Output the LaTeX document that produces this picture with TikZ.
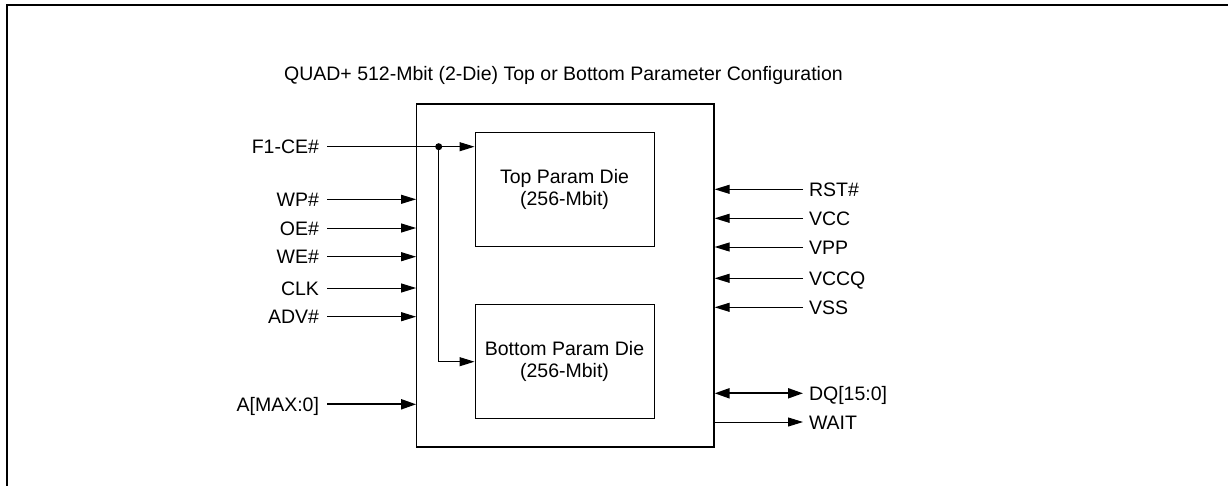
\documentclass[tikz,border=0pt]{standalone}
\usepackage{fontspec}
\setmainfont{Liberation Sans}
\usetikzlibrary{arrows.meta}
\begin{document}
\begin{tikzpicture}[x=1pt,y=-1pt,
  txt/.style={font=\fontsize{19.5}{22}\selectfont},
  lbl/.style={txt, inner sep=0pt, text height=14pt, text depth=0pt},
  lblL/.style={lbl, outer xsep=8pt, anchor=east},
  lblR/.style={lbl, outer xsep=6pt, anchor=west},
  sig/.style={line width=1pt, -{Triangle[length=15pt,width=9pt]}},
  busarrow/.style={line width=2pt, {Triangle[length=15pt,width=10pt]}-{Triangle[length=15pt,width=10pt]}},
  busin/.style={line width=2pt, -{Triangle[length=15pt,width=10pt]}},
  die/.style={draw, line width=1pt, minimum width=179pt, minimum height=114pt, align=center, txt, inner sep=0pt}]
\useasboundingbox (0,0) rectangle (1228,485);
\draw[line width=2.5pt] (7,486) -- (7,5) -- (1229,5);

\node[lbl] (title) at (563.5,73.7) {QUAD+ 512-Mbit (2-Die) Top or Bottom Parameter Configuration};

\node[draw, line width=1.2pt, minimum width=297.3pt, minimum height=343pt, inner sep=0pt] (chip) at (565.35,275.5) {};
\node[die] (top) at (564.5,189.7) {Top Param Die\\(256-Mbit)};
\node[die] (bot) at (564.5,361.7) {Bottom Param Die\\(256-Mbit)};

% left signals
\node[lblL] (f1) at (327,146.7) {F1-CE\#};
\node[lblL] (wp) at (327,199.3) {WP\#};
\node[lblL] (oe) at (327,228) {OE\#};
\node[lblL] (we) at (327,256.7) {WE\#};
\node[lblL] (clk) at (327,288) {CLK};
\node[lblL] (adv) at (327,316.7) {ADV\#};
\node[lblL] (addr) at (327,404.3) {A[MAX:0]};

\node[circle, fill, inner sep=0pt, minimum size=7pt] (j) at (438.7,146.7) {};
\draw[sig] (f1.east) -- (f1 -| top.west);
\draw[sig] (j.center) |- (bot.west);
\foreach \s in {wp,oe,we,clk,adv} \draw[sig] (\s.east) -- (\s -| chip.west);
\draw[busin] (addr.east) -- (addr -| chip.west);

% right signals
\node[lblR] (rst) at (803,189.3) {RST\#};
\node[lblR] (vcc) at (803,218.3) {VCC};
\node[lblR] (vpp) at (803,247) {VPP};
\node[lblR] (vccq) at (803,278.3) {VCCQ};
\node[lblR] (vss) at (803,307.3) {VSS};
\node[lblR] (dq) at (803,393.3) {DQ[15:0]};
\node[lblR] (wait) at (803,422) {WAIT};
\foreach \s in {rst,vcc,vpp,vccq,vss} \draw[sig] (\s.west) -- (\s -| chip.east);
\draw[busarrow] (dq -| chip.east) -- (dq.west);
\draw[sig] (wait -| chip.east) -- (wait.west);
\end{tikzpicture}
\end{document}
